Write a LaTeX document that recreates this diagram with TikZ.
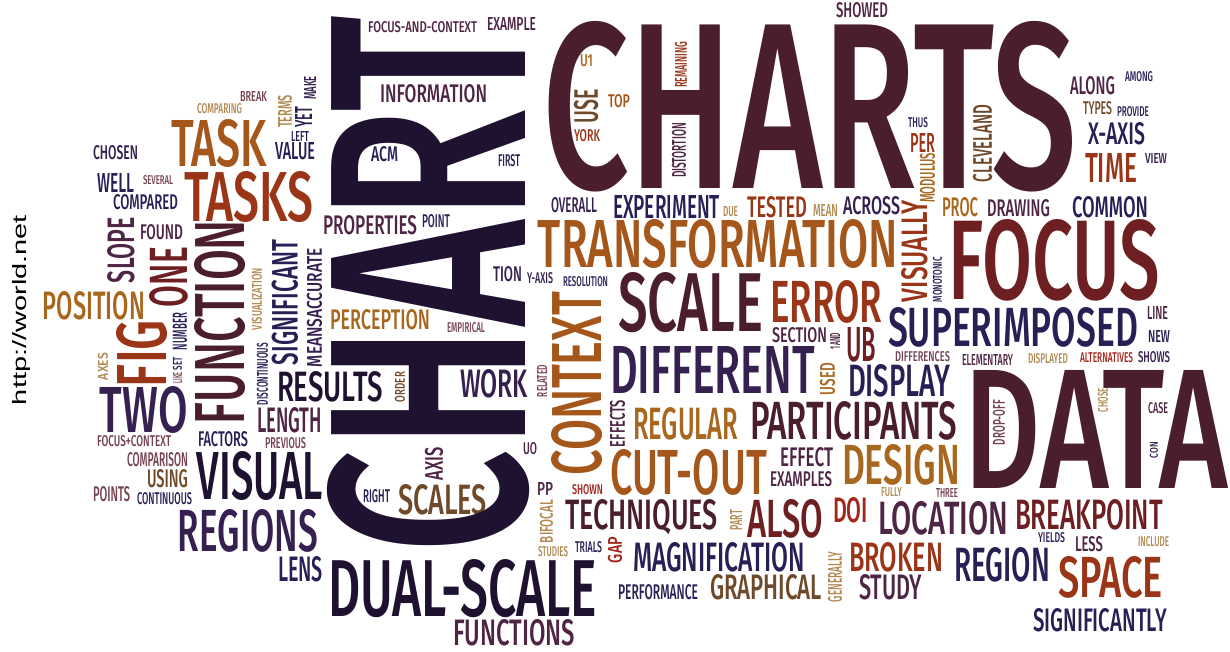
\documentclass[tikz,border=0pt]{standalone}
\usepackage{fontspec}
\usepackage{xcolor}
\usepackage{graphicx}
\usepackage{tikz}
\newfontfamily\cloudfont{Fira Sans Medium}
\newfontfamily\urlfont{Liberation Sans}
\definecolor{cInk}{HTML}{1F1230}
\definecolor{cMaroon}{HTML}{4B1E2E}
\definecolor{cPlum}{HTML}{4E2544}
\definecolor{cNavy}{HTML}{2A1F55}
\definecolor{cIndigo}{HTML}{35204F}
\definecolor{cBrick}{HTML}{6E1F22}
\definecolor{cRust}{HTML}{9A3518}
\definecolor{cRed}{HTML}{A3261B}
\definecolor{cOrange}{HTML}{A5561A}
\definecolor{cGold}{HTML}{A8671F}
\definecolor{cTan}{HTML}{B08850}
\definecolor{cBrown}{HTML}{6E4A2A}
\definecolor{cMauve}{HTML}{74424F}
\newlength{\pxu}
\setlength{\pxu}{0.5pt}

\begin{document}
\begin{tikzpicture}[x=0.5pt,y=-0.5pt,
  word/.style={
    inner sep=0pt,
    outer sep=0pt,
    font=\cloudfont},
  upword/.style={
    word,
    rotate=90},
  urltext/.style={
    inner sep=0pt,
    rotate=90,
    font=\urlfont,
    text=black},
]

  \useasboundingbox (0,0) rectangle (1230,652);

  % Source link
  \node[urltext] (url) at (22,310) {\resizebox*{190\pxu}{18\pxu}{http://world.net}};

  % Horizontal words
  \foreach \nm/\x/\y/\w/\h/\c/\txt in {
    charts/810/106.5/534/167/cMaroon/CHARTS,
    data/1096.5/429/263/118/cMaroon/DATA,
    focus/1054/260/212/80/cBrick/FOCUS,
    transformation/718/244/360/48/cOrange/TRANSFORMATION,
    scale/690.5/302.5/145/59/cMaroon/SCALE,
    error/826/302/112/42/cRust/ERROR,
    section/799.5/335.5/55/15/cPlum/SECTION,
    different/712.5/369.5/205/47/cIndigo/DIFFERENT,
    superimposed/1013/327.5/250/39/cNavy/SUPERIMPOSED,
    ub/861/345/30/34/cBrick/UB,
    display/899/381/102/32/cNavy/DISPLAY,
    participants/853.5/421/207/38/cMaroon/PARTICIPANTS,
    regular/685.5/424/105/32/cGold/REGULAR,
    design/901/465/118/40/cGold/DESIGN,
    cutout/688.5/472.5/157/45/cOrange/CUT-OUT,
    effect/806.5/457.5/53/19/cPlum/EFFECT,
    examples/801/479.5/62/15/cPlum/EXAMPLES,
    techniques/641.5/517/153/30/cMaroon/TECHNIQUES,
    also/785/519/76/38/cBrick/ALSO,
    doi/850.5/510.5/35/25/cRed/DOI,
    location/943/518.5/130/33/cPlum/LOCATION,
    breakpoint/1089/515/148/30/cBrick/BREAKPOINT,
    fully/891.5/492.5/21/9/cTan/FULLY,
    three/947/492.5/22/9/cMauve/THREE,
    yields/1051.5/538/27/10/cNavy/YIELDS,
    less/1089/544.5/28/15/cPlum/LESS,
    include/1153.5/542/31/10/cTan/INCLUDE,
    broken/896/557.5/94/29/cRust/BROKEN,
    region/1002/565/96/34/cNavy/REGION,
    space/1110.5/577.5/105/41/cRust/SPACE,
    study/890.5/587.5/63/25/cPlum/STUDY,
    significantly/1100/620.5/134/23/cNavy/SIGNIFICANTLY,
    magnification/719/557.5/172/29/cNavy/MAGNIFICATION,
    graphical/766/587.5/112/25/cBrown/GRAPHICAL,
    performance/658/592.5/80/15/cNavy/PERFORMANCE,
    trials/588.5/547.5/27/11/cNavy/TRIALS,
    studies/553/552/30/10/cTan/STUDIES,
    shown/587.5/490/31/10/cRed/SHOWN,
    pp/545/488.5/16/13/cPlum/PP,
    uo/530/449/14/12/cPlum/UO,
    scales/442.5/500/89/30/cBrown/SCALES,
    dualscale/462.5/588.5/269/57/cInk/DUAL-SCALE,
    functions/514/633/122/26/cPlum/FUNCTIONS,
    right/376.5/496.5/27/13/cNavy/RIGHT,
    lens/300.5/569.5/45/25/cNavy/LENS,
    regions/248/531/140/42/cIndigo/REGIONS,
    visual/260/476/126/48/cInk/VISUAL,
    continuous/164.5/499/55/12/cNavy/CONTINUOUS,
    points/111.5/494.5/37/15/cMauve/POINTS,
    using/167.5/479/41/18/cBrown/USING,
    comparison/157.5/460/61/14/cMauve/COMPARISON,
    focuscontext/134/441.5/74/11/cMauve/FOCUS+CONTEXT,
    factors/223/439.5/50/15/cNavy/FACTORS,
    previous/285.5/443.5/41/11/cMauve/PREVIOUS,
    length/289.5/420.5/65/25/cPlum/LENGTH,
    two/144/410/88/46/cIndigo/TWO,
    results/330/387/106/30/cInk/RESULTS,
    properties/370/225.5/94/19/cPlum/PROPERTIES,
    perception/380/320/100/20/cGold/PERCEPTION,
    point/436/221.5/28/13/cNavy/POINT,
    empirical/466/328/38/10/cMauve/EMPIRICAL,
    tion/507.5/274.5/29/15/cIndigo/TION,
    yaxis/540/278.5/26/11/cIndigo/Y-AXIS,
    resolution/585.5/282/45/10/cNavy/RESOLUTION,
    work/494/384/68/28/cIndigo/WORK,
    first/509/161/22/12/cNavy/FIRST,
    overall/574/205.5/46/15/cIndigo/OVERALL,
    experiment/666.5/206.5/107/23/cNavy/EXPERIMENT,
    due/730.5/212/15/10/cTan/DUE,
    tested/777/207.5/60/21/cRust/TESTED,
    mean/825.5/211/25/12/cTan/MEAN,
    across/871.5/206/57/18/cIndigo/ACROSS,
    proc/960/207.5/36/19/cGold/PROC,
    drawing/1018.5/208.5/63/17/cPlum/DRAWING,
    common/1110/207.5/76/21/cNavy/COMMON,
    per/922.5/142.5/25/19/cRust/PER,
    thus/918/123/20/10/cNavy/THUS,
    along/1092.5/86/45/18/cPlum/ALONG,
    among/1139/77/28/10/cNavy/AMONG,
    types/1097.5/108.5/29/13/cBrown/TYPES,
    provide/1133/112/32/10/cNavy/PROVIDE,
    xaxis/1116.5/134/57/22/cNavy/X-AXIS,
    time/1111/167.5/52/29/cRust/TIME,
    view/1156/158/22/10/cIndigo/VIEW,
    showed/862/10.5/52/15/cPlum/SHOWED,
    uone/586.5/61/13/12/cGold/U1,
    top/619/101.5/22/13/cOrange/TOP,
    york/587/136/26/12/cRust/YORK,
    line/1157.5/313.5/21/13/cPlum/LINE,
    new/1159/336/22/12/cNavy/NEW,
    shows/1154/357.5/32/11/cIndigo/SHOWS,
    alternatives/1106.5/358/53/10/cRed/ALTERNATIVES,
    displayed/1048/359/40/10/cTan/DISPLAYED,
    elementary/987.5/359.5/51/11/cPlum/ELEMENTARY,
    differences/922.5/357/55/10/cMauve/DIFFERENCES,
    case/1158/408.5/20/11/cPlum/CASE,
    information/433.5/94/107/18/cPlum/INFORMATION,
    acm/384.5/154.5/27/15/cNavy/ACM,
    focusandcontext/422.5/27.5/109/11/cPlum/FOCUS-AND-CONTEXT,
    example/511.5/24.5/49/13/cPlum/EXAMPLE,
    break/253.5/97/27/10/cMauve/BREAK,
    comparing/219.5/109/45/10/cTan/COMPARING,
    left/300/137/18/10/cNavy/LEFT,
    value/295/151.5/40/17/cNavy/VALUE,
    task/219/143.5/96/47/cOrange/TASK,
    tasks/248.5/197/129/50/cRust/TASKS,
    chosen/115.5/153/45/14/cIndigo/CHOSEN,
    well/115.5/182.5/37/19/cNavy/WELL,
    several/158/180.5/30/9/cMauve/SEVERAL,
    compared/145.5/202.5/65/15/cNavy/COMPARED,
    found/161.5/232.5/43/15/cPlum/FOUND,
    position/94/306/102/28/cGold/POSITION} {
    \node[word, text=\c] (\nm) at (\x,\y) {\resizebox{\w\pxu}{\h\pxu}{\txt}};
  }

  % Vertical words, read from bottom to top
  \foreach \nm/\x/\y/\w/\h/\c/\txt in {
    chart/429/284.5/537/198/cInk/CHART,
    context/577/383.5/183/50/cOrange/CONTEXT,
    function/220/322/204/50/cMaroon/FUNCTION,
    fig/142/353.5/67/50/cRust/FIG,
    axes/103/366.5/27/10/cTan/AXES,
    slope/121.5/250/66/27/cPlum/SLOPE,
    one/169/277/60/38/cBrick/ONE,
    set/177.5/363.5/13/9/cNavy/SET,
    number/180/331.5/37/14/cNavy/NUMBER,
    like/177.5/377.5/11/9/cMauve/LIKE,
    visualization/257/299/62/10/cTan/VISUALIZATION,
    discontinuous/262.5/374/62/11/cNavy/DISCONTINUOUS,
    significant/285/302.5/125/26/cNavy/SIGNIFICANT,
    meansaccurate/314.5/307.5/119/15/cIndigo/MEANSACCURATE,
    order/400/387/30/10/cBrown/ORDER,
    related/542/381/32/10/cMauve/RELATED,
    effects/617.5/423.5/47/15/cPlum/EFFECTS,
    used/827.5/379/32/15/cGold/USED,
    oneand/835/341/16/10/cPlum/1AND,
    visually/915/251/102/26/cRust/VISUALLY,
    monotonic/937.5/279.5/45/9/cNavy/MONOTONIC,
    modulus/927.5/178/50/15/cGold/MODULUS,
    cleveland/982.5/143.5/77/19/cBrown/CLEVELAND,
    use/586/106/34/24/cBrown/USE,
    remaining/681/65/46/12/cRust/REMAINING,
    distortion/679/150.5/55/14/cPlum/DISTORTION,
    terms/285/111.5/33/14/cTan/TERMS,
    make/310/88/24/12/cIndigo/MAKE,
    yet/303.5/117.5/21/17/cNavy/YET,
    axis/434/463.5/33/18/cPlum/AXIS,
    bifocal/546.5/521.5/43/13/cTan/BIFOCAL,
    gap/615/550/26/14/cRed/GAP,
    generally/835/577/50/14/cTan/GENERALLY,
    part/736/520/20/12/cTan/PART,
    chose/1103/400/24/10/cTan/CHOSE,
    dropoff/999/422.5/45/12/cMauve/DROP-OFF,
    con/1154/450/16/8/cIndigo/CON} {
    \node[upword, text=\c] (\nm) at (\x,\y) {\resizebox{\w\pxu}{\h\pxu}{\txt}};
  }

\end{tikzpicture}
\end{document}
